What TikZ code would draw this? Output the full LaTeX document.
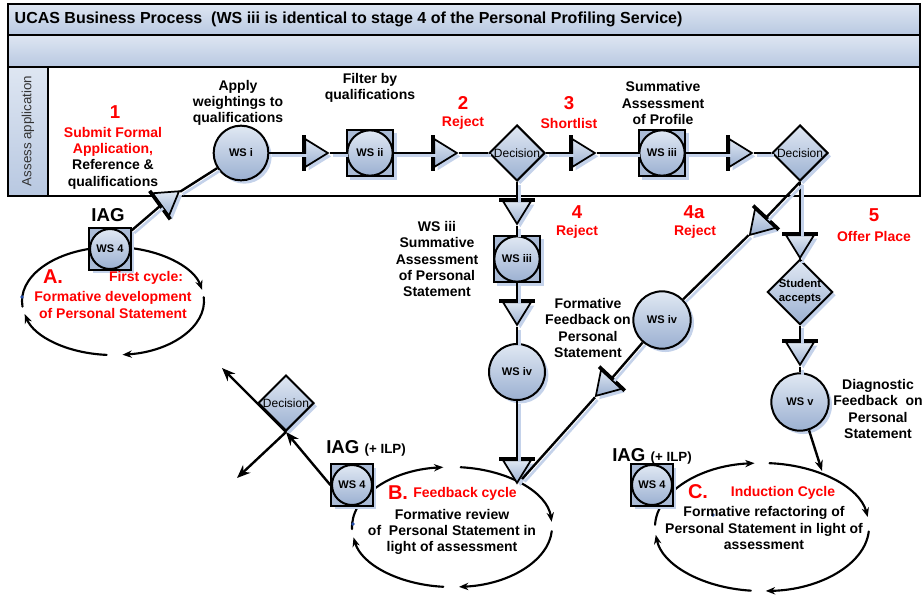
\documentclass[tikz,border=0pt]{standalone}
\usepackage{fontspec}
\setmainfont{Liberation Sans}
\usepackage{xcolor}
\usetikzlibrary{shapes.geometric,shadows,arrows.meta}

\definecolor{bandtop}{RGB}{222,230,242}
\definecolor{bandbot}{RGB}{184,200,225}
\definecolor{wslight}{RGB}{224,232,243}
\definecolor{wsdark}{RGB}{155,176,209}
\definecolor{sqblue}{RGB}{170,187,214}
\definecolor{shadowblue}{RGB}{196,210,234}
\definecolor{dotblue}{RGB}{40,80,170}

\tikzset{
  wsshade/.style={top color=wslight, bottom color=wsdark},
  shad/.style={drop shadow={shadow xshift=2.5pt, shadow yshift=-2.5pt, fill=shadowblue, opacity=1}},
  wsc/.style={circle, draw, line width=1.5pt, wsshade, shad, inner sep=0pt, minimum size=42pt,
    font=\fontsize{8.3}{9}\selectfont\bfseries},
  wsin/.style={circle, draw, line width=1.5pt, wsshade, inner sep=0pt, minimum size=34pt,
    font=\fontsize{8.3}{9}\selectfont\bfseries},
  wsq/.style={rectangle, draw, line width=1.5pt, fill=sqblue, shad, inner sep=0pt, minimum size=35pt},
  dec/.style={diamond, aspect=1, draw, line width=1.5pt, wsshade, shad, inner sep=0pt, minimum size=42pt,
    font=\fontsize{9}{10}\selectfont},
  tri/.style={isosceles triangle, isosceles triangle stretches, draw, line width=1.3pt, wsshade, shad,
    inner sep=0pt, minimum width=21pt, minimum height=17pt},
  bar/.style={line width=2.8pt, shorten <=-1.5pt, shorten >=-1.5pt},
  flow/.style={line width=1.8pt},
  sflow/.style={flow, preaction={draw=shadowblue, line width=2pt, transform canvas={shift={(2pt,-2pt)}}}},
  cyc/.style={line width=1.6pt, line cap=round},
  cyca/.style={cyc, -{Stealth[length=7pt,width=5.5pt]}},
  bigarr/.style={-{Stealth[length=10pt,width=8pt]}},
  smarr/.style={-{Stealth[length=8pt,width=6pt]}},
  lbl/.style={font=\fontsize{10.5}{12.2}\selectfont\bfseries, align=center, inner sep=0pt},
  redlbl/.style={lbl, text=red},
  bignum/.style={font=\fontsize{14}{16}\selectfont\bfseries, text=red, inner sep=0pt},
  iag/.style={font=\fontsize{14}{16}\selectfont\bfseries, inner sep=0pt},
}

\begin{document}
\begin{tikzpicture}[x=0.75pt, y=-0.75pt]
\useasboundingbox (0,0) rectangle (923,594);

% bands and lane
\shade[top color=bandtop, bottom color=bandbot, draw=black, line width=0.8pt] (8,4) rectangle (920,35);
\shade[top color=bandtop, bottom color=bandbot, draw=black, line width=0.8pt] (8,35) rectangle (920,67);
\draw[line width=1.5pt] (8,67) rectangle (920,196);
\shade[top color=bandtop, bottom color=bandbot, draw=black, line width=1.5pt] (8,67) rectangle (48,196);
\node[anchor=west, font=\fontsize{12}{14}\selectfont\bfseries] (title) at (10,19)
  {UCAS Business Process\ \ (WS iii is identical to stage 4 of the Personal Profiling Service)};
\node[rotate=90, font=\fontsize{10}{12}\selectfont, text=black!80] (lanelbl) at (28,131) {Assess application};

% cycles
\coordinate (cA) at (113,301);
\coordinate (cB) at (452,527);
\coordinate (cC) at (762,527);
\draw[cyca] (cA) ++(78:68.25pt and 40.5pt) arc[start angle=78, end angle=12, x radius=68.25pt, y radius=40.5pt];
\draw[cyca] (cA) ++(4:68.25pt and 40.5pt) arc[start angle=4, end angle=-84, x radius=68.25pt, y radius=40.5pt];
\draw[cyca] (cA) ++(-94:68.25pt and 40.5pt) arc[start angle=-94, end angle=-166, x radius=68.25pt, y radius=40.5pt];
\draw[cyc] (cA) ++(-174:68.25pt and 40.5pt) arc[start angle=-174, end angle=-262, x radius=68.25pt, y radius=40.5pt];
\draw[cyca] (cB) ++(-178:75pt and 45pt) arc[start angle=-178, end angle=-265, x radius=75pt, y radius=45pt];
\draw[cyca] (cB) ++(-275:75pt and 45pt) arc[start angle=-275, end angle=-355, x radius=75pt, y radius=45pt];
\draw[cyca] (cB) ++(-4:75pt and 45pt) arc[start angle=-4, end angle=-86, x radius=75pt, y radius=45pt];
\draw[cyca] (cB) ++(-95:75pt and 45pt) arc[start angle=-95, end angle=-170, x radius=75pt, y radius=45pt];
\draw[cyca] (cC) ++(-182:80.25pt and 48pt) arc[start angle=-182, end angle=-266, x radius=80.25pt, y radius=48pt];
\draw[cyca] (cC) ++(-274:80.25pt and 48pt) arc[start angle=-274, end angle=-351, x radius=80.25pt, y radius=48pt];
\draw[cyca] (cC) ++(-4:80.25pt and 48pt) arc[start angle=-4, end angle=-88, x radius=80.25pt, y radius=48pt];
\draw[cyca] (cC) ++(-96:80.25pt and 48pt) arc[start angle=-96, end angle=-173, x radius=80.25pt, y radius=48pt];
\fill[dotblue] (22,297) circle[radius=1.4pt];
\fill[dotblue] (353,524) circle[radius=1.4pt];
\fill[dotblue] (713,515) circle[radius=1.4pt];

% lane shapes
\node[wsc, minimum size=41pt] (wsI) at (241,153) {WS i};
\node[tri] (t1) at (313,153) {};
\node[wsq] (ws2) at (370,153) {};
\node[wsin] (ws2c) at (ws2) {WS ii};
\node[tri] (t2) at (442,153) {};
\node[dec] (dec1) at (517,153) {\makebox[0pt]{Decision}};
\node[tri] (t3) at (580,153) {};
\node[wsq] (ws3) at (662,153) {};
\node[wsin] (ws3c) at (ws3) {WS iii};
\node[tri] (t4) at (737,153) {};
\node[dec] (dec2) at (800,153) {\makebox[0pt]{Decision}};

% reject branch
\node[tri, rotate=-90] (t5) at (517,209) {};
\node[wsq] (ws3b) at (517,259) {};
\node[wsin] (ws3bc) at (ws3b) {WS iii};
\node[tri, rotate=-90] (t6) at (517,310) {};
\node[wsc] (ws4l) at (517,372) {WS iv};
\node[tri, rotate=-90] (t7) at (517,468) {};

% offer branch
\node[tri, rotate=-90] (t8) at (800,243) {};
\node[dec, minimum size=49pt, font=\fontsize{8.5}{10.5}\selectfont\bfseries] (stud) at (800,292)
  {\makebox[0pt]{\begin{tabular}{@{}c@{}}Student\\accepts\end{tabular}}};
\node[tri, rotate=-90] (t9) at (800,350) {};
\node[wsc, minimum size=43pt] (wsv) at (800,402) {WS v};

% 4a branch
\node[tri, rotate=227] (t10) at (760,224) {};
\node[wsc, minimum size=43pt] (ws4r) at (662,320) {WS iv};
\node[tri, rotate=227] (t11) at (606,385) {};
\coordinate (bEnd) at (522,479);
\coordinate (cEnd) at (822,471);

% IAG boxes
\node[wsq, minimum size=31pt] (ws4a) at (110,249) {};
\node[wsin, minimum size=30pt] (ws4ac) at (ws4a) {WS 4};
\node[tri, rotate=36] (t0) at (167,200) {};
\node[dec] (dec3) at (286,403) {\makebox[0pt]{Decision}};
\coordinate (tipUL) at (222,368);
\coordinate (tipLL) at (237,478);
\node[wsq, minimum size=31pt] (ws4b) at (352,485) {};
\node[wsin, minimum size=30pt] (ws4bc) at (ws4b) {WS 4};
\node[wsq, minimum size=31pt] (ws4c) at (652,485) {};
\node[wsin, minimum size=30pt] (ws4cc) at (ws4c) {WS 4};

% bars
\draw[bar] (t0.left corner) -- (t0.right corner);
\draw[bar] (t1.left corner) -- (t1.right corner);
\draw[bar] (t2.left corner) -- (t2.right corner);
\draw[bar] (t3.left corner) -- (t3.right corner);
\draw[bar] (t4.left corner) -- (t4.right corner);
\draw[bar] (t5.left corner) -- (t5.right corner);
\draw[bar] (t6.left corner) -- (t6.right corner);
\draw[bar] (t7.left corner) -- (t7.right corner);
\draw[bar] (t8.left corner) -- (t8.right corner);
\draw[bar] (t9.left corner) -- (t9.right corner);
\draw[bar] (t10.left corner) -- (t10.right corner);
\draw[bar] (t11.left corner) -- (t11.right corner);

% connectors
\draw[sflow] (wsI) -- (t1) -- (ws2) -- (t2) -- (dec1) -- (t3) -- (ws3) -- (t4) -- (dec2);
\draw[sflow] (ws4a) -- (t0) -- (wsI);
\draw[sflow] (dec1) -- (t5) -- (ws3b) -- (t6) -- (ws4l) -- (t7);
\draw[sflow] (dec2) -- (t8) -- (stud) -- (t9) -- (wsv);
\draw[sflow] (dec2.south) -- (t10) -- (ws4r) -- (t11) -- (bEnd);
\draw[flow, smarr] (wsv) -- (cEnd);
\draw[flow, bigarr] (ws4b.west) -- (dec3.south);
\draw[flow, bigarr] (dec3.south) -- (tipUL);
\draw[flow, bigarr] (dec3.south) -- (tipLL);

% labels
\node[bignum] (n1) at (115,112) {1};
\node[lbl] (submit) at (113,158) {\textcolor{red}{Submit Formal}\\\textcolor{red}{Application,}\\Reference \&\\qualifications};
\node[lbl] (apply) at (238,103) {Apply\\weightings to\\qualifications};
\node[lbl] (filter) at (370,88) {Filter by\\qualifications};
\node[bignum] (n2) at (463,103) {2};
\node[redlbl] (rej2) at (463,123) {Reject};
\node[bignum] (n3) at (569,103) {3};
\node[redlbl] (short) at (569,123) {Shortlist};
\node[lbl] (summ) at (663,103) {Summative\\Assessment\\of Profile};
\node[bignum] (n4) at (577,212) {4};
\node[redlbl] (rej4) at (577,232) {Reject};
\node[lbl] (wsiiitxt) at (437,259) {WS iii\\Summative\\Assessment\\of Personal\\Statement};
\node[lbl] (formfb) at (588,328) {Formative\\Feedback on\\Personal\\Statement};
\node[bignum] (n4a) at (694,212) {4a};
\node[redlbl] (rej4a) at (695,232) {Reject};
\node[bignum] (n5) at (874,215) {5};
\node[redlbl] (offer) at (874,236) {Offer Place};
\node[lbl] (diag) at (878,409) {Diagnostic\\Feedback\ \ on\\Personal\\Statement};

% cycle labels
\node[iag] (iagA) at (108,215) {IAG};
\node[bignum, font=\fontsize{15}{17}\selectfont\bfseries] (la) at (53,277) {A.};
\node[redlbl] (first) at (146,278) {First cycle:};
\node[redlbl] (formA) at (113,305) {Formative development\\of Personal Statement};
\node[iag] (iagB) at (366,448) {IAG {\fontsize{10}{12}\selectfont (+ ILP)}};
\node[bignum, font=\fontsize{15}{17}\selectfont\bfseries] (lb) at (398,493) {B.};
\node[redlbl] (fbcyc) at (465,494) {Feedback cycle};
\node[lbl] (formB) at (452,532) {Formative review\\of\ \ Personal Statement in\\light of assessment};
\node[iag] (iagC) at (652,456) {IAG {\fontsize{10}{12}\selectfont (+ ILP)}};
\node[bignum, font=\fontsize{15}{17}\selectfont\bfseries] (lc) at (698,492) {C.};
\node[redlbl] (indcyc) at (783,493) {Induction Cycle};
\node[lbl] (formC) at (764,528) {Formative refactoring of\\Personal Statement in light of\\assessment};
\end{tikzpicture}
\end{document}
